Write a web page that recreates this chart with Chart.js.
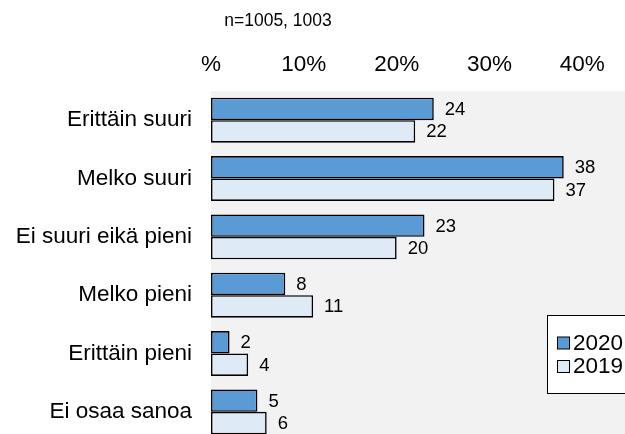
<!DOCTYPE html>
<html>
<head>
<meta charset="utf-8">
<script src="https://cdn.jsdelivr.net/npm/chart.js@4/dist/chart.umd.min.js"></script>
<style>
  html, body { margin: 0; padding: 0; overflow: hidden; background: #fff; }
  #wrap { width: 625px; height: 441px; }
</style>
</head>
<body>
<div id="wrap"><canvas id="chart" width="625" height="441"></canvas></div>
<script>
const categories = ["Erittäin suuri", "Melko suuri", "Ei suuri eikä pieni", "Melko pieni", "Erittäin pieni", "Ei osaa sanoa"];
const values2020 = [24, 38, 23, 8, 2, 5];
const values2019 = [22, 37, 20, 11, 4, 6];
const tickValues = [0, 10, 20, 30, 40];
const tickLabels = ["%", "10%", "20%", "30%", "40%"];
const seriesNames = ["2020", "2019"];
const subtitle = "n=1005, 1003";

const FONT = "'Liberation Sans', Arial, sans-serif";

// grey plot background
const plotBg = {
  id: "plotBg",
  beforeDraw(chart) {
    const { ctx, chartArea: a } = chart;
    ctx.save();
    ctx.fillStyle = "#f2f2f2";
    ctx.fillRect(a.left, a.top, a.right - a.left, a.bottom - a.top);
    ctx.restore();
  }
};

// numbers next to the bars + subtitle + legend box
const extras = {
  id: "extras",
  afterDatasetsDraw(chart) {
    const ctx = chart.ctx;
    ctx.save();
    ctx.fillStyle = "#000";
    ctx.font = "18.5px " + FONT;
    ctx.textAlign = "left";
    ctx.textBaseline = "middle";
    chart.data.datasets.forEach((ds, di) => {
      chart.getDatasetMeta(di).data.forEach((bar, i) => {
        ctx.fillText(String(ds.data[i]), bar.x + 11, bar.y + 1);
      });
    });

    ctx.font = "17.5px " + FONT;
    ctx.textAlign = "center";
    ctx.fillText(subtitle, 278, 21);

    // legend
    const a = chart.chartArea;
    const lx = a.right - 78, ly = 315;
    ctx.fillStyle = "#fff";
    ctx.fillRect(lx, ly, 90, 78);
    ctx.strokeStyle = "#000";
    ctx.lineWidth = 1;
    ctx.strokeRect(lx + 0.5, ly + 0.5, 90, 78);
    ctx.font = "22.5px " + FONT;
    ctx.textAlign = "left";
    chart.data.datasets.forEach((ds, di) => {
      const cy = ly + 28.5 + di * 23.5;
      ctx.fillStyle = ds.backgroundColor;
      ctx.fillRect(lx + 10.5, cy - 6.5, 12, 12);
      ctx.strokeStyle = "#000";
      ctx.strokeRect(lx + 10.5, cy - 6.5, 12, 12);
      ctx.fillStyle = "#000";
      ctx.fillText(ds.label, lx + 26, cy);
    });
    ctx.restore();
  }
};

new Chart(document.getElementById("chart"), {
  type: "bar",
  data: {
    labels: categories,
    datasets: [
      {
        label: seriesNames[0],
        data: values2020,
        backgroundColor: "#5b9bd5",
        borderColor: "#000",
        borderWidth: 1.6,
        borderSkipped: false
      },
      {
        label: seriesNames[1],
        data: values2019,
        backgroundColor: "#deebf7",
        borderColor: "#000",
        borderWidth: 1.6,
        borderSkipped: false
      }
    ]
  },
  options: {
    indexAxis: "y",
    responsive: false,
    animation: false,
    layout: { padding: 0 },
    categoryPercentage: 0.77,
    barPercentage: 1.0,
    plugins: {
      legend: { display: false },
      title: { display: false },
      tooltip: { enabled: false }
    },
    scales: {
      x: {
        position: "top",
        min: 0,
        max: 44.6,
        grid: { display: false, drawTicks: false },
        border: { display: false },
        afterBuildTicks: (s) => { s.ticks = tickValues.map((v) => ({ value: v })); },
        ticks: {
          autoSkip: false,
          maxRotation: 0,
          padding: 13,
          color: "#000",
          font: { family: FONT, size: 22.5 },
          callback: (v, i) => (tickLabels[i] !== undefined ? tickLabels[i] : "")
        },
        afterFit: (s) => { s.height = 91; s.paddingLeft = 0; s.paddingRight = 0; }
      },
      y: {
        grid: { display: false, drawTicks: false },
        border: { display: false },
        ticks: {
          padding: 19,
          color: "#000",
          font: { family: FONT, size: 22.5 }
        },
        afterFit: (s) => { s.width = 211; s.paddingTop = 0; s.paddingBottom = 0; }
      }
    }
  },
  plugins: [plotBg, extras]
});
</script>
</body>
</html>
